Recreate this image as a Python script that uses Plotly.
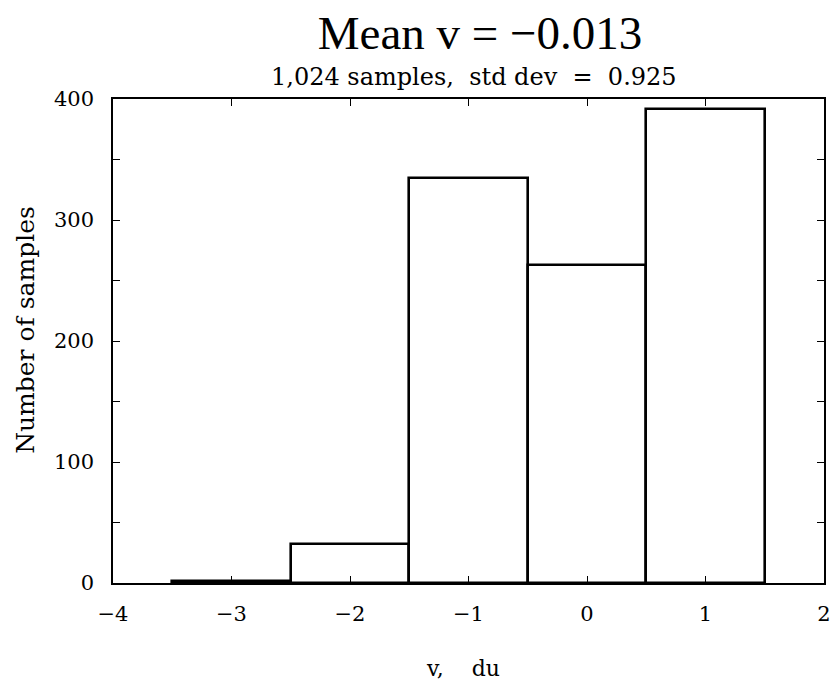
import plotly.graph_objects as go

# Histogram of v: bin centres (du) and counts per bin
bin_centers = [-3, -2, -1, 0, 1]
counts = [2, 32, 335, 263, 392]
bin_width = 1.0

x_ticks = [-4, -3, -2, -1, 0, 1, 2]
x_ticklabels = ["\u22124", "\u22123", "\u22122", "\u22121", "0", "1", "2"]
y_ticks = [0, 100, 200, 300, 400]

title_text = "Mean v = \u22120.013"
subtitle_text = "1,024 samples,&nbsp; std dev&nbsp; =&nbsp; 0.925"
x_title = "v,&nbsp;&nbsp;&nbsp; du"
y_title = "Number of samples"

serif = "DejaVu Serif"

# plot-area geometry (pixels)
W, H = 834, 684
L, R, T, B = 113, 3, 99, 101
plot_w = W - L - R
plot_h = H - T - B


def px_x(px):
    return (px - L) / plot_w


def px_y(py):
    return (H - B - py) / plot_h


fig = go.Figure()
fig.add_trace(go.Bar(
    x=bin_centers,
    y=counts,
    width=[bin_width] * len(bin_centers),
    marker=dict(color="white", line=dict(color="black", width=2.6)),
    showlegend=False,
))

axis_common = dict(
    showline=True,
    linecolor="black",
    linewidth=1.6,
    mirror="ticks",
    ticks="inside",
    ticklen=7,
    tickwidth=1.2,
    tickcolor="black",
    showgrid=False,
    zeroline=False,
    ticklabeloverflow="allow",
    tickfont=dict(family=serif, size=21, color="black"),
)

fig.update_xaxes(
    range=[-4, 2],
    tickvals=x_ticks,
    ticktext=x_ticklabels,
    ticklabelstandoff=11,
    **axis_common,
)
fig.update_yaxes(
    range=[0, 400],
    tickvals=y_ticks,
    ticklabelstandoff=13,
    minor=dict(dtick=50, ticks="inside", ticklen=7, tickwidth=1.2, tickcolor="black", showgrid=False),
    **axis_common,
)

fig.update_layout(
    width=W,
    height=H,
    margin=dict(l=L, r=R, t=T, b=B),
    paper_bgcolor="white",
    plot_bgcolor="white",
    bargap=0,
    title=dict(
        text=title_text,
        x=480 / W,
        xanchor="center",
        y=1 - 33 / H,
        yanchor="middle",
        font=dict(family="Liberation Serif", size=47, color="black"),
    ),
    annotations=[
        dict(
            text=subtitle_text,
            xref="paper", yref="paper",
            x=px_x(478), y=px_y(77),
            xanchor="center", yanchor="middle",
            showarrow=False,
            font=dict(family=serif, size=24, color="black"),
        ),
        dict(
            text=x_title,
            xref="paper", yref="paper",
            x=px_x(466), y=px_y(668),
            xanchor="center", yanchor="middle",
            showarrow=False,
            font=dict(family=serif, size=22, color="black"),
        ),
        dict(
            text=y_title,
            xref="paper", yref="paper",
            x=px_x(24), y=px_y(330),
            xanchor="center", yanchor="middle",
            textangle=-90,
            showarrow=False,
            font=dict(family=serif, size=25, color="black"),
        ),
    ],
)

fig.write_html("out.html")
